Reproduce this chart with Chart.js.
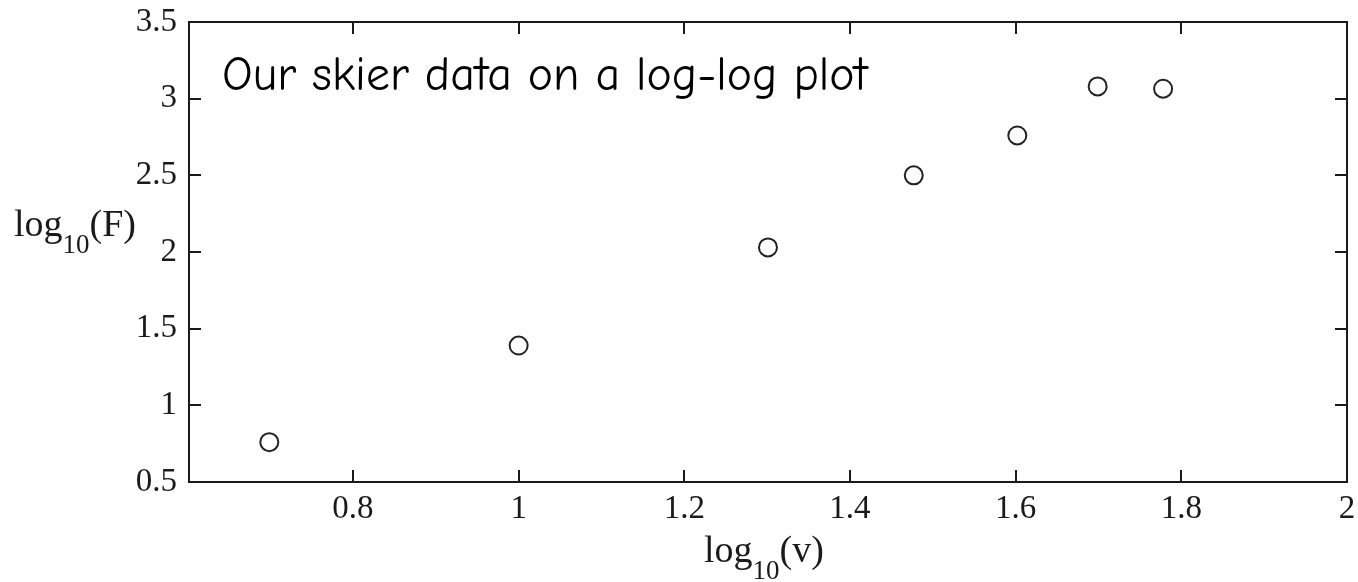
<!DOCTYPE html>
<html lang="en">
<head>
    <meta charset="UTF-8">
    <title>Skier data, log-log</title>
    <script src="https://cdn.jsdelivr.net/npm/chart.js"></script>
    <style>
        html, body {
            margin: 0;
            padding: 0;
            background: #fff;
        }
        .chart-container {
            width: 1358px;
            height: 582px;
        }
    </style>
</head>
<body>
    <div class="chart-container">
        <canvas id="skierChart"></canvas>
    </div>
    <script>
        // log10 of speed and log10 of drag force for each run
        const logV = [0.699, 1.0, 1.301, 1.477, 1.602, 1.699, 1.778];
        const logF = [0.76, 1.39, 2.03, 2.50, 2.76, 3.08, 3.065];

        const xTicks = [0.8, 1.0, 1.2, 1.4, 1.6, 1.8, 2.0];
        const yTicks = [0.5, 1.0, 1.5, 2.0, 2.5, 3.0, 3.5];

        const plotNote = 'Our skier data on a log-log plot';

        const serif = '"Liberation Serif", "Times New Roman", serif';
        const ink = '#1a1a1a';

        // box around the plot with ticks pointing inwards on all four sides
        function drawFrame(chart) {
            const { ctx, chartArea: { left, right, top, bottom } } = chart;
            const xs = chart.scales.x, ys = chart.scales.y;
            const len = 12;

            ctx.save();
            ctx.strokeStyle = ink;
            ctx.lineWidth = 2;
            ctx.strokeRect(left, top, right - left, bottom - top);

            ctx.beginPath();
            xTicks.forEach(v => {
                const px = Math.round(xs.getPixelForValue(v));
                ctx.moveTo(px, bottom); ctx.lineTo(px, bottom - len);
                ctx.moveTo(px, top); ctx.lineTo(px, top + len);
            });
            yTicks.forEach(v => {
                const py = Math.round(ys.getPixelForValue(v));
                ctx.moveTo(left, py); ctx.lineTo(left + len, py);
                ctx.moveTo(right, py); ctx.lineTo(right - len, py);
            });
            ctx.stroke();
            ctx.restore();
        }

        // "log" + subscript "10" + "(x)"
        function drawLogLabel(ctx, x, y, arg) {
            ctx.font = '38px ' + serif;
            ctx.fillText('log', x, y);
            x += ctx.measureText('log').width;
            ctx.font = '27px ' + serif;
            ctx.fillText('10', x, y + 17);
            x += ctx.measureText('10').width;
            ctx.font = '38px ' + serif;
            ctx.fillText('(' + arg + ')', x, y);
        }

        function drawLabels(chart) {
            const { ctx } = chart;
            ctx.save();
            ctx.fillStyle = ink;
            ctx.textBaseline = 'alphabetic';
            ctx.textAlign = 'left';
            drawLogLabel(ctx, 14, 236, 'F');
            drawLogLabel(ctx, 704, 562, 'v');

            // annotation inside the plot, sized to its span
            ctx.fillStyle = '#000';
            let size = 38;
            ctx.font = size + 'px "Comic Sans MS", "Comic Neue", "Open Sans", sans-serif';
            size = size * 646 / ctx.measureText(plotNote).width;
            ctx.font = size.toFixed(1) + 'px "Comic Sans MS", "Comic Neue", "Open Sans", sans-serif';
            ctx.fillText(plotNote, 222, 90);
            ctx.restore();
        }

        function createChart() {
            const ctx = document.getElementById('skierChart').getContext('2d');
            const points = logV.map((v, i) => ({ x: v, y: logF[i] }));

            new Chart(ctx, {
                type: 'scatter',
                data: {
                    datasets: [{
                        label: 'skier',
                        data: points,
                        pointStyle: 'circle',
                        pointRadius: 9,
                        borderWidth: 2,
                        borderColor: '#222',
                        backgroundColor: 'rgba(255,255,255,0)'
                    }]
                },
                options: {
                    responsive: true,
                    maintainAspectRatio: false,
                    animation: false,
                    layout: {
                        padding: { top: 22, right: 5, left: 0, bottom: 0 }
                    },
                    scales: {
                        x: {
                            type: 'linear',
                            min: Math.log10(4),
                            max: 2,
                            afterBuildTicks: scale => {
                                scale.ticks = xTicks.map(v => ({ value: v }));
                            },
                            afterFit: scale => {
                                scale.height = 100;
                                scale.paddingLeft = 0;
                                scale.paddingRight = 0;
                            },
                            grid: { display: false, drawTicks: false },
                            border: { display: false },
                            ticks: {
                                padding: 8,
                                maxRotation: 0,
                                color: ink,
                                font: { family: serif, size: 33 },
                                callback: v => String(Math.round(v * 10) / 10)
                            }
                        },
                        y: {
                            type: 'linear',
                            min: 0.5,
                            max: 3.5,
                            afterBuildTicks: scale => {
                                scale.ticks = yTicks.map(v => ({ value: v }));
                            },
                            afterFit: scale => {
                                scale.width = 189;
                                scale.paddingTop = 0;
                                scale.paddingBottom = 0;
                            },
                            grid: { display: false, drawTicks: false },
                            border: { display: false },
                            ticks: {
                                padding: 12,
                                color: ink,
                                font: { family: serif, size: 33 },
                                callback: v => String(Math.round(v * 10) / 10)
                            }
                        }
                    },
                    plugins: {
                        legend: { display: false },
                        tooltip: { enabled: false }
                    }
                },
                plugins: [{
                    id: 'frameAndLabels',
                    beforeDatasetsDraw: drawFrame,
                    afterDraw: drawLabels
                }]
            });
        }

        createChart();
    </script>
</body>
</html>
